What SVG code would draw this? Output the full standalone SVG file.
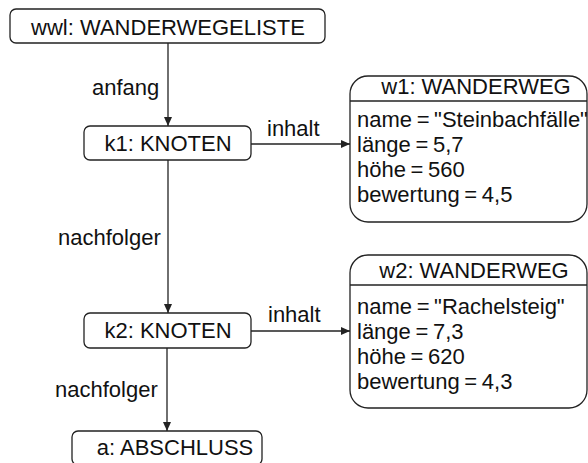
<svg xmlns="http://www.w3.org/2000/svg" width="588" height="463" viewBox="0 0 588 463">
<style>
.box{fill:#fff;stroke:#222;stroke-width:1.3}
.t{font-family:"Liberation Sans",Arial,sans-serif;font-size:22px;fill:#111}
.c{text-anchor:middle}
.at{word-spacing:-1.5px}
.ln{stroke:#222;stroke-width:1.3;fill:none}
</style>
<defs>
<marker id="ah" markerWidth="10" markerHeight="10" refX="9" refY="5" orient="auto" markerUnits="userSpaceOnUse">
<path d="M0,1 L9,5 L0,9 Z" fill="#222"/>
</marker>
</defs>
<rect width="588" height="463" fill="#fff"/>
<g id="connectors">
<line class="ln" x1="168" y1="43" x2="168" y2="126" marker-end="url(#ah)"/>
<line class="ln" x1="168" y1="160" x2="168" y2="313" marker-end="url(#ah)"/>
<line class="ln" x1="167" y1="348" x2="167" y2="431" marker-end="url(#ah)"/>
<line class="ln" x1="251" y1="144" x2="350" y2="144" marker-end="url(#ah)"/>
<line class="ln" x1="251" y1="331" x2="350" y2="331" marker-end="url(#ah)"/>
<text class="t" x="92" y="95">anfang</text>
<text class="t" x="267" y="136">inhalt</text>
<text class="t" x="58" y="245">nachfolger</text>
<text class="t" x="268" y="322">inhalt</text>
<text class="t" x="55" y="397">nachfolger</text>
</g>
<g id="wwl">
<rect class="box" x="10" y="9" width="315" height="34" rx="6"/>
<text class="t c" x="168" y="35">wwl: WANDERWEGELISTE</text>
</g>
<g id="k1">
<rect class="box" x="84" y="126" width="167" height="34" rx="6"/>
<text class="t c" x="168" y="151">k1: KNOTEN</text>
</g>
<g id="k2">
<rect class="box" x="84" y="313" width="167" height="35" rx="6"/>
<text class="t c" x="168" y="338">k2: KNOTEN</text>
</g>
<g id="a">
<rect class="box" x="72" y="431" width="190" height="34" rx="6"/>
<text class="t c" x="175" y="455">a: ABSCHLUSS</text>
</g>
<g id="w1">
<rect class="box" x="350" y="76" width="237" height="146" rx="18"/>
<line class="ln" x1="350" y1="101" x2="587" y2="101"/>
<text class="t c" x="476" y="94">w1: WANDERWEG</text>
<text class="t at" x="357" y="127">name = "Steinbachfälle"</text>
<text class="t at" x="357" y="152">länge = 5,7</text>
<text class="t at" x="357" y="177">höhe = 560</text>
<text class="t at" x="357" y="202">bewertung = 4,5</text>
</g>
<g id="w2">
<rect class="box" x="350" y="255" width="237" height="153" rx="18"/>
<line class="ln" x1="350" y1="285" x2="587" y2="285"/>
<text class="t c" x="474" y="278">w2: WANDERWEG</text>
<text class="t at" x="357" y="314">name = "Rachelsteig"</text>
<text class="t at" x="357" y="339">länge = 7,3</text>
<text class="t at" x="357" y="364">höhe = 620</text>
<text class="t at" x="357" y="389">bewertung = 4,3</text>
</g>
</svg>
